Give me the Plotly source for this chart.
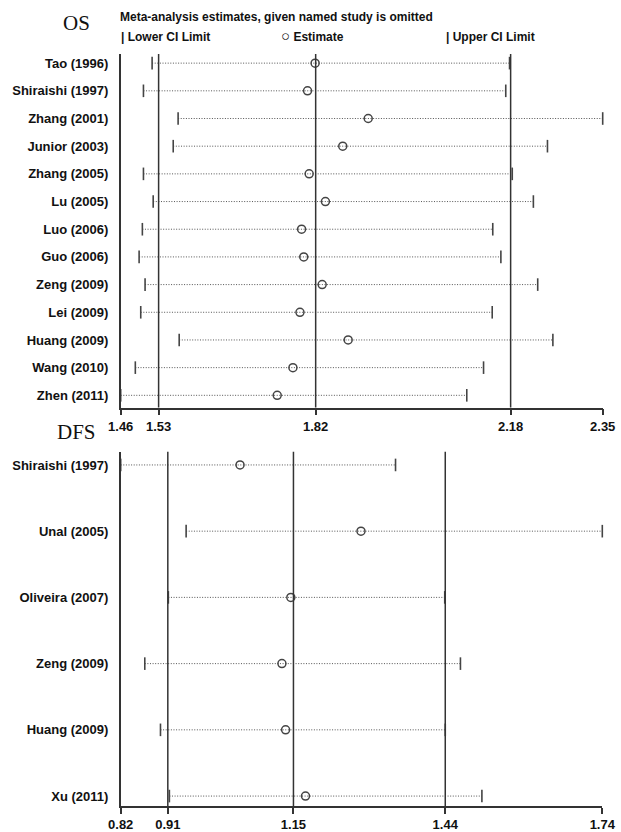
import plotly.graph_objects as go

# Overall survival: pooled HR and CI recomputed with each study omitted
os_studies = ["Tao (1996)", "Shiraishi (1997)", "Zhang (2001)", "Junior (2003)",
              "Zhang (2005)", "Lu (2005)", "Luo (2006)", "Guo (2006)",
              "Zeng (2009)", "Lei (2009)", "Huang (2009)", "Wang (2010)", "Zhen (2011)"]
os_lower = [1.518, 1.502, 1.566, 1.557, 1.502, 1.520, 1.500, 1.494, 1.505, 1.497, 1.568, 1.487, 1.460]
os_est = [1.819, 1.805, 1.917, 1.870, 1.808, 1.838, 1.794, 1.798, 1.832, 1.791, 1.880, 1.778, 1.749]
os_upper = [2.178, 2.171, 2.350, 2.248, 2.183, 2.222, 2.147, 2.162, 2.230, 2.146, 2.258, 2.130, 2.099]
os_ticks = [1.46, 1.53, 1.82, 2.18, 2.35]
os_refs = [1.53, 1.82, 2.18]

# Disease-free survival
dfs_studies = ["Shiraishi (1997)", "Unal (2005)", "Oliveira (2007)",
               "Zeng (2009)", "Huang (2009)", "Xu (2011)"]
dfs_lower = [0.820, 0.945, 0.911, 0.866, 0.896, 0.913]
dfs_est = [1.048, 1.279, 1.145, 1.128, 1.135, 1.173]
dfs_upper = [1.345, 1.740, 1.439, 1.469, 1.440, 1.510]
dfs_ticks = [0.82, 0.91, 1.15, 1.44, 1.74]
dfs_refs = [0.91, 1.15, 1.44]

W, H = 621, 832
MARK = "#444444"
LINE = "#333333"
TXT = "#111111"
SANS = "Liberation Sans, Arial, sans-serif"
SERIF = "Liberation Serif, Times New Roman, serif"

fig = go.Figure()


def add_panel(studies, lower, est, upper, xa, ya):
    xs, ys = [], []
    for s, lo, hi in zip(studies, lower, upper):
        xs += [lo, hi, None]
        ys += [s, s, None]
    fig.add_trace(go.Scatter(x=xs, y=ys, mode="lines", xaxis=xa, yaxis=ya,
                             line=dict(color="#555555", width=1, dash="1px,1.6px"),
                             showlegend=False, hoverinfo="skip"))
    for vals in (lower, upper):
        fig.add_trace(go.Scatter(x=vals, y=studies, mode="markers", xaxis=xa, yaxis=ya,
                                 marker=dict(symbol="line-ns", size=9,
                                             line=dict(color=MARK, width=1.6)),
                                 cliponaxis=False, showlegend=False))
    fig.add_trace(go.Scatter(x=est, y=studies, mode="markers", xaxis=xa, yaxis=ya,
                             marker=dict(symbol="circle-open", size=8, color=MARK,
                                         line=dict(color=MARK, width=1.5)),
                             cliponaxis=False, showlegend=False))


add_panel(os_studies, os_lower, os_est, os_upper, "x", "y")
add_panel(dfs_studies, dfs_lower, dfs_est, dfs_upper, "x2", "y2")

tickfont = dict(family=SANS, size=13, color=TXT, weight="bold")


def xaxis_cfg(ticks, left_px, right_px, anchor):
    return dict(domain=[left_px / W, right_px / W], range=[ticks[0], ticks[-1]],
                tickvals=ticks, ticktext=[f"{t:.2f}" for t in ticks],
                showline=True, linecolor=LINE, linewidth=1.5,
                ticks="outside", ticklen=6, tickwidth=1.5, tickcolor=LINE,
                ticklabelstandoff=0,
                showgrid=False, zeroline=False, tickfont=tickfont,
                automargin=False, anchor=anchor)


def yaxis_cfg(studies, top_px, bottom_px, rng, anchor):
    return dict(domain=[1 - bottom_px / H, 1 - top_px / H], type="category",
                categoryorder="array", categoryarray=studies, range=rng,
                showline=True, linecolor=LINE, linewidth=1.5, ticks="",
                ticklabelstandoff=8, showgrid=False, zeroline=False,
                tickfont=tickfont, automargin=False, anchor=anchor)


fig.update_layout(
    template="none",
    width=W, height=H, autosize=False,
    margin=dict(l=0, r=0, t=0, b=0, pad=0, autoexpand=False),
    paper_bgcolor="white", plot_bgcolor="white",
    xaxis=xaxis_cfg(os_ticks, 120.7, 602.7, "y"),
    yaxis=yaxis_cfg(os_studies, 54, 407.5, [12.44, -0.33], "x"),
    xaxis2=xaxis_cfg(dfs_ticks, 120.7, 602.3, "y2"),
    yaxis2=yaxis_cfg(dfs_studies, 451.7, 806, [5.15, -0.2], "x2"),
)

# Overall estimate and CI reference lines
for v in os_refs:
    fig.add_shape(type="line", xref="x", yref="y domain", x0=v, x1=v, y0=0, y1=1,
                  line=dict(color=LINE, width=1.5))
for v in dfs_refs:
    fig.add_shape(type="line", xref="x2", yref="y2 domain", x0=v, x1=v, y0=0, y1=1,
                  line=dict(color=LINE, width=1.5))


def note(text, x_px, y_px, size=12, family=SANS, weight="bold", xanchor="left"):
    fig.add_annotation(text=text, xref="paper", yref="paper",
                       x=x_px / W, y=1 - y_px / H, xanchor=xanchor, yanchor="middle",
                       showarrow=False, font=dict(family=family, size=size,
                                                  color=TXT, weight=weight))


note("OS", 76, 23, size=21, family=SERIF, weight="normal", xanchor="center")
note("DFS", 76, 432, size=21, family=SERIF, weight="normal", xanchor="center")
note("Meta-analysis estimates, given named study is omitted", 118, 17)
note("| Lower CI Limit", 119, 37)
note("<span style='font-size:15px;font-weight:normal'>○</span> Estimate", 279, 35.5)
note("| Upper CI Limit", 444, 37)

fig.write_html("out.html")
